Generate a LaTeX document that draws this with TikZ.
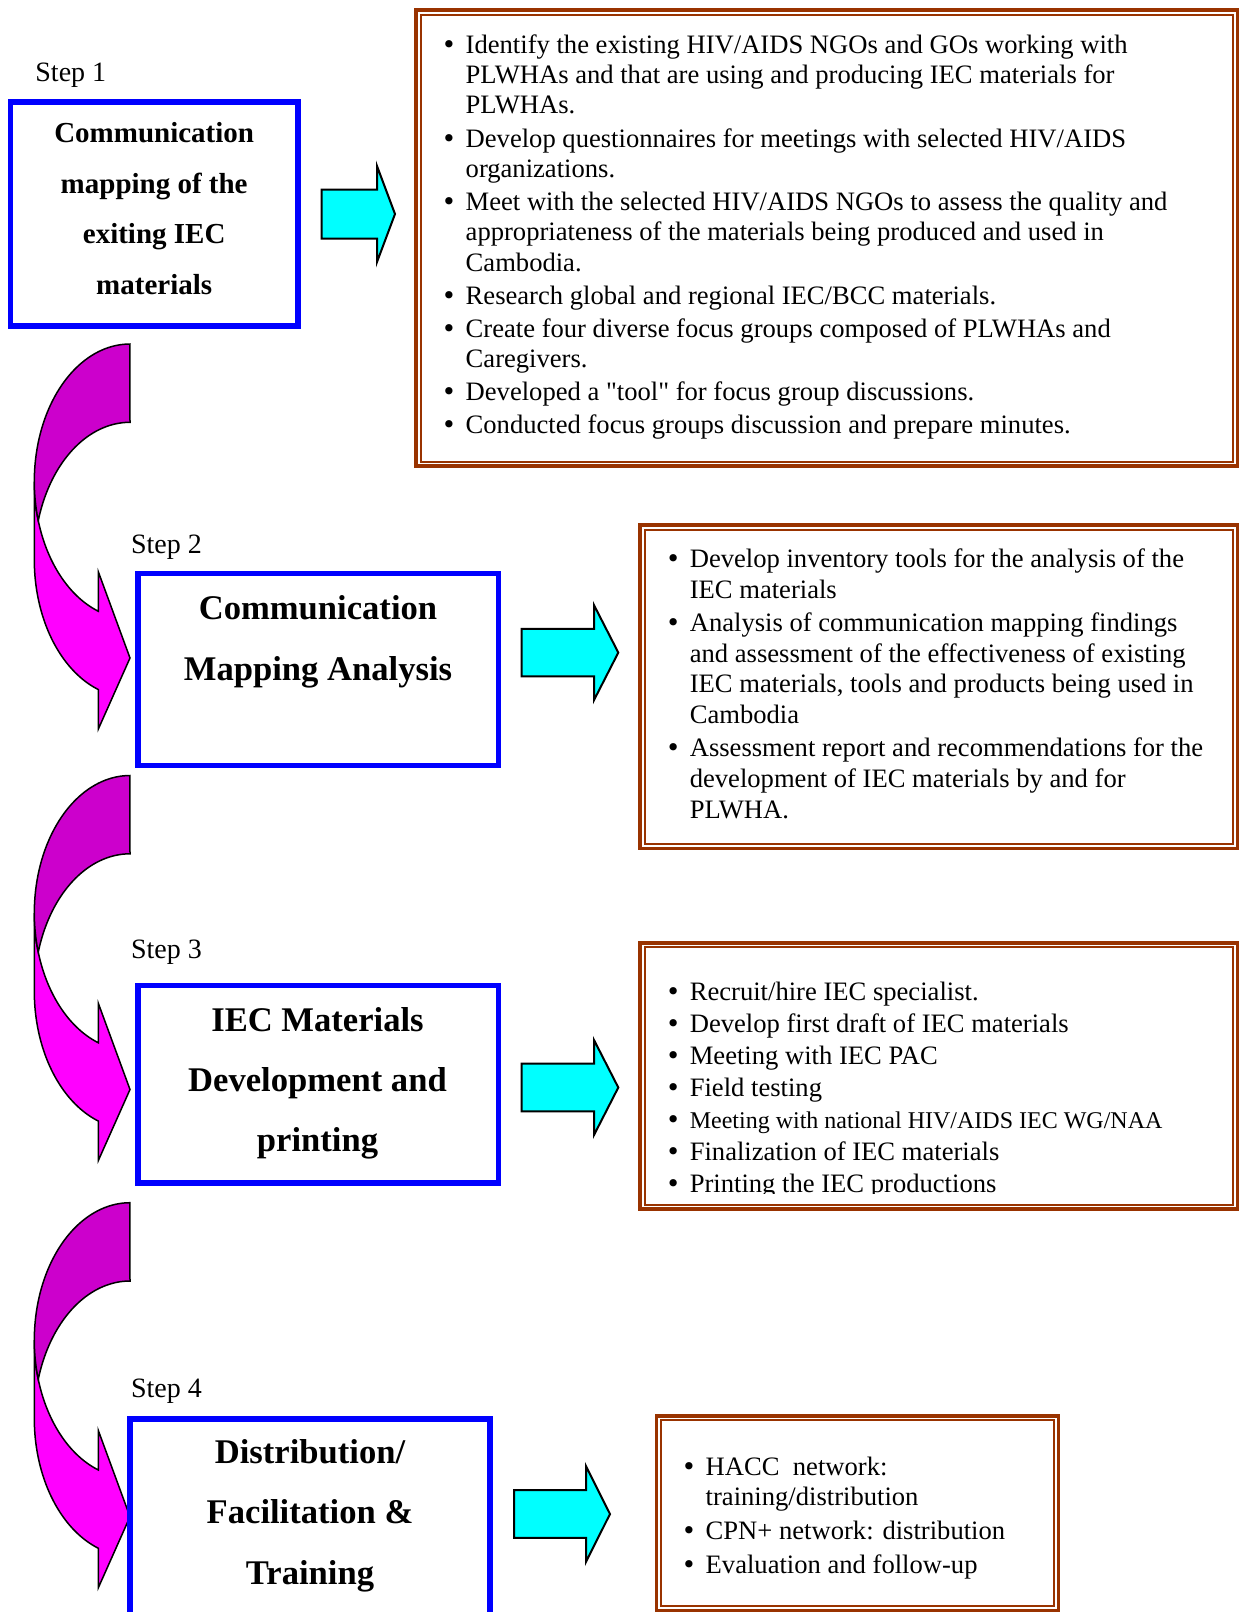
\documentclass[tikz,border=0pt]{standalone}
\usepackage{fontspec}
\setmainfont{Liberation Serif}[Ligatures=TeXOff]
\newfontfamily\bulletfont{DejaVu Sans}
\definecolor{boxblue}{HTML}{0000FF}
\definecolor{notebrown}{HTML}{993300}
\definecolor{arrcyan}{HTML}{00FFFF}
\definecolor{arrmag}{HTML}{FF00FF}
\definecolor{arrpur}{HTML}{CC00CC}
\newcommand\bigbullet{{\bulletfont\fontsize{12.5}{12.5}\selectfont\textbullet}}
\newcommand\bitem[1]{\par\hangindent=12pt\hangafter=1\noindent\makebox[12pt][l]{\bigbullet}#1}
% curved arrow, #1 = top y (px)
\newcommand\curvedarr[1]{%
 \draw[curvefront] plot[domain=0:1,samples=50,variable=\s] ({130+95.7*cos(180-70.66*\s)},{#1+137.5+137.5*sin(180-70.66*\s)})
   -- (98.3,{#1+227.7}) -- (130,{#1+314}) -- (98.3,{#1+385.1})
   -- plot[domain=0:1,samples=50,variable=\s] ({130+95.7*cos(109.34+70.66*\s)},{#1+215.8+137.5*sin(109.34+70.66*\s)}) -- cycle;
 \draw[curveback] plot[domain=0:1,samples=50,variable=\s] ({130+95.7*cos(270-73.46*\s)},{#1+215.8+137.5*sin(270-73.46*\s)})
   -- plot[domain=0:1,samples=50,variable=\s] ({130+95.7*cos(163.46+106.54*\s)},{#1+137.5+137.5*sin(163.46+106.54*\s)}) -- cycle;
}
% right block arrow: #1 left x, #2 head base x, #3 tip x, #4 centre y, #5 half body, #6 half head
\newcommand\rightblock[6]{%
 \draw[blockarrow] (#1,{#4-#5}) -- (#2,{#4-#5}) -- (#2,{#4-#6}) -- (#3,#4) -- (#2,{#4+#6}) -- (#2,{#4+#5}) -- (#1,{#4+#5}) -- cycle;
}
\begin{document}
\begin{tikzpicture}[x=0.5pt,y=-0.5pt,
 stepbox/.style={draw=boxblue, line width=2.75pt, rectangle, inner sep=0pt, outer sep=0pt},
 noteouter/.style={draw=notebrown, line width=1.75pt, rectangle, inner sep=0pt, outer sep=0pt},
 noteinner/.style={draw=notebrown, line width=1pt},
 steplabel/.style={anchor=base west, inner sep=0pt, font=\fontsize{14}{16}\selectfont},
 boxtitle/.style={anchor=base, inner sep=0pt},
 bullets/.style={anchor=base west, inner sep=0pt},
 blockarrow/.style={draw=black, fill=arrcyan, line width=1pt, line join=miter},
 curvefront/.style={draw=black, fill=arrmag, line width=0.75pt, line join=miter},
 curveback/.style={draw=black, fill=arrpur, line width=0.75pt, line join=miter}]
\useasboundingbox (0,0) rectangle (1240,1612);
\clip (0,0) rectangle (1240,1612);

% curved arrows between steps
\curvedarr{344}
\curvedarr{775.5}
\curvedarr{1202.7}

% step boxes
\node[stepbox, minimum width=143.85pt, minimum height=112pt] (b1) at (154.15,214) {};
\node[stepbox, minimum width=180.15pt, minimum height=96pt] (b2) at (318.15,669.3) {};
\node[stepbox, minimum width=180.15pt, minimum height=98.75pt] (b3) at (318.15,1084.25) {};
\node[stepbox, minimum width=180pt, minimum height=115.5pt] (b4) at (310,1534.5) {};

% step labels
\node[steplabel] (s1) at (35,81.5) {Step 1};
\node[steplabel] (s2) at (130.6,553.6) {Step 2};
\node[steplabel] (s3) at (130.6,958.2) {Step 3};
\node[steplabel] (s4) at (130.6,1397.5) {Step 4};

% titles
\node[boxtitle] (t1) at (154.2,142.7) {\parbox[t]{140pt}{\centering\fontsize{14.5}{25.3}\selectfont\bfseries Communication\\mapping of the\\exiting IEC\\materials}};
\node[boxtitle] (t2) at (318,619.7) {\parbox[t]{175pt}{\centering\fontsize{17.3}{30.2}\selectfont\bfseries Communication\\Mapping Analysis}};
\node[boxtitle] (t3) at (317.5,1031) {\parbox[t]{175pt}{\centering\fontsize{17.3}{30.1}\selectfont\bfseries IEC Materials\\Development and\\printing}};
\node[boxtitle] (t4) at (310,1463.7) {\parbox[t]{175pt}{\centering\fontsize{17.3}{30.1}\selectfont\bfseries Distribution/\\Facilitation \&\\Training}};

% note boxes
\node[noteouter, minimum width=410.65pt, minimum height=228pt] (n1) at (826.65,238) {};
\draw[noteinner] ([shift={(4.5,4.5)}]n1.north west) rectangle ([shift={(-4.5,-4.5)}]n1.south east);
\node[noteouter, minimum width=298.65pt, minimum height=161.75pt] (n2) at (938.65,686.75) {};
\draw[noteinner] ([shift={(4.5,4.5)}]n2.north west) rectangle ([shift={(-4.5,-4.5)}]n2.south east);
\node[noteouter, minimum width=298.65pt, minimum height=133.125pt] (n3) at (938.65,1075.9) {};
\draw[noteinner] ([shift={(4.5,4.5)}]n3.north west) rectangle ([shift={(-4.5,-4.5)}]n3.south east);
\node[noteouter, minimum width=200.9pt, minimum height=97.25pt] (n4) at (857.4,1513) {};
\draw[noteinner] ([shift={(4.5,4.5)}]n4.north west) rectangle ([shift={(-4.5,-4.5)}]n4.south east);

% cyan arrows
\rightblock{321.7}{377}{395}{214}{24.5}{48}
\rightblock{521.7}{594}{618.3}{652.6}{23.85}{47.5}
\rightblock{521.7}{594}{618.3}{1087.5}{23.85}{47.5}
\rightblock{514}{586}{610}{1514}{23.8}{47.85}

% bullet lists
\node[bullets] (l1) at (441.3,53.3) {\parbox[t]{400pt}{\fontsize{13.3}{15.15}\selectfont\setlength\parskip{1.4pt}\rightskip=0pt plus 1fil
\bitem{Identify the existing HIV/AIDS NGOs and GOs working with\\PLWHAs and that are using and producing IEC materials for\\PLWHAs.}
\bitem{Develop questionnaires for meetings with selected HIV/AIDS\\organizations.}
\bitem{Meet with the selected HIV/AIDS NGOs to assess the quality and\\appropriateness of the materials being produced and used in\\Cambodia.}
\bitem{Research global and regional IEC/BCC materials.}
\bitem{Create four diverse focus groups composed of PLWHAs and\\Caregivers.}
\bitem{Developed a "tool" for focus group discussions.}
\bitem{Conducted focus groups discussion and prepare minutes.}}};

\node[bullets] (l2) at (665.4,567.3) {\parbox[t]{290pt}{\fontsize{13.3}{15.45}\selectfont\setlength\parskip{1pt}\rightskip=0pt plus 1fil
\bitem{Develop inventory tools for the analysis of the\\IEC materials}
\bitem{Analysis of communication mapping findings\\and assessment of the effectiveness of existing\\IEC materials, tools and products being used in\\Cambodia}
\bitem{Assessment report and recommendations for the\\development of IEC materials by and for\\PLWHA.}}};

\begin{scope}
\clip (600,930) rectangle (1240,1193);
\node[bullets] (l3) at (665.4,1000) {\parbox[t]{290pt}{\fontsize{13.3}{15.6}\selectfont\setlength\parskip{0.45pt}\rightskip=0pt plus 1fil
\bitem{Recruit/hire IEC specialist.}
\bitem{Develop first draft of IEC materials}
\bitem{Meeting with IEC PAC}
\bitem{Field testing}
\bitem{{\fontsize{12}{15.6}\selectfont Meeting with national HIV/AIDS IEC WG/NAA}}
\bitem{Finalization of IEC materials}
\bitem{Printing the IEC productions}}};
\end{scope}

\node[bullets] (l4) at (681.3,1475) {\parbox[t]{190pt}{\fontsize{13.3}{15.4}\selectfont\setlength\parskip{1.6pt}\rightskip=0pt plus 1fil
\bitem{HACC\ \ network:\\training/distribution}
\bitem{CPN+ network: distribution}
\bitem{Evaluation and follow-up}}};
\end{tikzpicture}
\end{document}
